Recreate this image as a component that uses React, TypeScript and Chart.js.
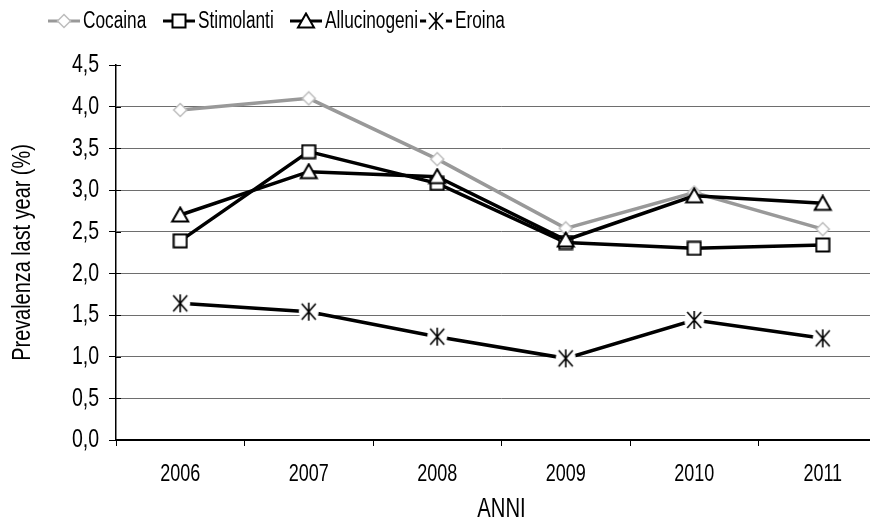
import React, { useEffect, useRef } from "react";
import { Chart, registerables } from "chart.js";

Chart.register(...registerables);

const years = ["2006", "2007", "2008", "2009", "2010", "2011"];
const cocaina = [3.96, 4.1, 3.37, 2.54, 2.97, 2.53];
const stimolanti = [2.39, 3.46, 3.08, 2.37, 2.3, 2.34];
const allucinogeni = [2.7, 3.22, 3.16, 2.4, 2.93, 2.84];
const eroina = [1.64, 1.54, 1.24, 0.98, 1.44, 1.22];
const seriesNames = ["Cocaina", "Stimolanti", "Allucinogeni", "Eroina"];
const yMin = 0;
const yMax = 4.5;
const yStep = 0.5;
const xTitle = "ANNI";
const yTitle = "Prevalenza last year (%)";

const FONT = "'Liberation Sans', Arial, sans-serif";
const SQUEEZE = 0.75;

function makeCanvas(w: number, h: number, draw: (c: CanvasRenderingContext2D) => void) {
  const c = document.createElement("canvas");
  c.width = w;
  c.height = h;
  const ctx = c.getContext("2d")!;
  draw(ctx);
  return c;
}

function diamond() {
  return makeCanvas(16, 16, (c) => {
    c.beginPath();
    c.moveTo(8, 1.5);
    c.lineTo(14.5, 8);
    c.lineTo(8, 14.5);
    c.lineTo(1.5, 8);
    c.closePath();
    c.fillStyle = "#ffffff";
    c.fill();
    c.lineWidth = 1.5;
    c.strokeStyle = "#bdbdbd";
    c.stroke();
  });
}

function square() {
  return makeCanvas(16, 16, (c) => {
    c.fillStyle = "#ffffff";
    c.fillRect(1.5, 1.5, 13, 13);
    c.lineWidth = 2;
    c.strokeStyle = "#000000";
    c.strokeRect(1.5, 1.5, 13, 13);
  });
}

function triangle() {
  return makeCanvas(20, 18, (c) => {
    c.beginPath();
    c.moveTo(10, 1.5);
    c.lineTo(18, 15.5);
    c.lineTo(2, 15.5);
    c.closePath();
    c.fillStyle = "#ffffff";
    c.fill();
    c.lineWidth = 2;
    c.strokeStyle = "#000000";
    c.stroke();
  });
}

function asterisk() {
  return makeCanvas(24, 24, (c) => {
    c.beginPath();
    c.ellipse(12, 12, 10, 11, 0, 0, Math.PI * 2);
    c.fillStyle = "#ffffff";
    c.fill();
    c.strokeStyle = "#000000";
    c.lineWidth = 1.6;
    c.beginPath();
    c.moveTo(12, 3);
    c.lineTo(12, 21);
    c.moveTo(5, 4);
    c.lineTo(19, 20);
    c.moveTo(19, 4);
    c.lineTo(5, 20);
    c.stroke();
  });
}

function squeezeText(ctx: CanvasRenderingContext2D) {
  const anyCtx = ctx as any;
  if (anyCtx.__squeezed) return;
  anyCtx.__squeezed = true;
  const origFill = ctx.fillText.bind(ctx);
  const origMeasure = ctx.measureText.bind(ctx);
  anyCtx.fillText = (text: string, x: number, y: number, maxWidth?: number) => {
    ctx.save();
    ctx.translate(x, y);
    ctx.scale(SQUEEZE, 1);
    if (maxWidth !== undefined) origFill(text, 0, 0, maxWidth / SQUEEZE);
    else origFill(text, 0, 0);
    ctx.restore();
  };
  anyCtx.measureText = (text: string) => {
    const m = origMeasure(text);
    return {
      width: m.width * SQUEEZE,
      actualBoundingBoxAscent: m.actualBoundingBoxAscent,
      actualBoundingBoxDescent: m.actualBoundingBoxDescent,
      actualBoundingBoxLeft: m.actualBoundingBoxLeft * SQUEEZE,
      actualBoundingBoxRight: m.actualBoundingBoxRight * SQUEEZE,
      fontBoundingBoxAscent: m.fontBoundingBoxAscent,
      fontBoundingBoxDescent: m.fontBoundingBoxDescent,
    };
  };
}

export default function App() {
  const ref = useRef<HTMLCanvasElement | null>(null);

  useEffect(() => {
    const canvas = ref.current;
    if (!canvas) return;
    squeezeText(canvas.getContext("2d")!);
    const markers = [diamond(), square(), triangle(), asterisk()];
    const lineColors = ["#999999", "#000000", "#000000", "#000000"];
    const values = [cocaina, stimolanti, allucinogeni, eroina];

    const legendPlugin = {
      id: "customLegend",
      afterDraw(chart: any) {
        const ctx: CanvasRenderingContext2D = chart.ctx;
        const starts = [48, 163, 290, 420];
        const y = 21;
        ctx.save();
        ctx.font = `23px ${FONT}`;
        ctx.textBaseline = "middle";
        ctx.textAlign = "left";
        seriesNames.forEach((name, i) => {
          const x0 = starts[i];
          ctx.strokeStyle = lineColors[i];
          ctx.lineWidth = 3;
          ctx.beginPath();
          ctx.moveTo(x0, y);
          ctx.lineTo(x0 + 32, y);
          ctx.stroke();
          const m = markers[i];
          ctx.drawImage(m, Math.round(x0 + 16 - m.width / 2), Math.round(y - m.height / 2));
          ctx.fillStyle = "#000000";
          ctx.fillText(name, x0 + 35, y + 1);
        });
        ctx.restore();
      },
    };

    const crossTickPlugin = {
      id: "crossTicks",
      afterDatasetsDraw(chart: any) {
        const ctx: CanvasRenderingContext2D = chart.ctx;
        const ys = chart.scales.y;
        const left = chart.chartArea.left;
        ctx.save();
        ctx.strokeStyle = "#000000";
        ctx.lineWidth = 1;
        ys.ticks.forEach((t: any) => {
          const py = Math.round(ys.getPixelForValue(t.value)) + 0.5;
          ctx.beginPath();
          ctx.moveTo(left, py);
          ctx.lineTo(left + 5, py);
          ctx.stroke();
        });
        ctx.restore();
      },
    };

    const chart = new Chart(canvas, {
      type: "line",
      data: {
        labels: years,
        datasets: values.map((v, i) => ({
          label: seriesNames[i],
          data: v,
          borderColor: lineColors[i],
          backgroundColor: lineColors[i],
          borderWidth: 3.5,
          pointStyle: markers[i] as any,
          pointRadius: 8,
          pointHoverRadius: 8,
          tension: 0,
          fill: false,
          order: 4 - i,
        })),
      },
      options: {
        responsive: false,
        animation: false,
        devicePixelRatio: 1,
        layout: { padding: { top: 65, right: 13, left: 0, bottom: 0 } },
        plugins: {
          legend: { display: false },
          tooltip: { enabled: false },
          title: { display: false },
        },
        scales: {
          x: {
            type: "category",
            offset: true,
            grid: {
              display: true,
              drawOnChartArea: false,
              drawTicks: true,
              tickLength: 6,
              offset: true,
              color: "#000000",
              tickColor: "#000000",
            },
            border: { display: true, color: "#000000", width: 2 },
            ticks: {
              color: "#000000",
              font: { family: FONT, size: 24 },
              padding: 14,
              maxRotation: 0,
              autoSkip: false,
            },
            title: {
              display: true,
              text: xTitle,
              color: "#000000",
              font: { family: FONT, size: 27, lineHeight: 1 },
              padding: { top: 0, bottom: 0 },
            },
            afterFit(scale: any) {
              scale.height = 83;
            },
          },
          y: {
            min: yMin,
            max: yMax,
            ticks: {
              stepSize: yStep,
              color: "#000000",
              font: { family: FONT, size: 26 },
              padding: 10,
              callback: (v: any) => Number(v).toFixed(1).replace(".", ","),
            },
            grid: {
              color: (c: any) =>
                c.tick && c.tick.value >= yMax ? "rgba(0,0,0,0)" : "#6e6e6e",
              lineWidth: 1,
              drawTicks: true,
              tickLength: 7,
              tickColor: "#000000",
            },
            border: { display: true, color: "#000000", width: 1.5 },
            title: {
              display: true,
              text: yTitle,
              color: "#000000",
              font: { family: FONT, size: 26.5, lineHeight: 1 },
              padding: { top: 9, bottom: 0 },
            },
            afterFit(scale: any) {
              scale.width = 116;
            },
          },
        },
      },
      plugins: [legendPlugin, crossTickPlugin],
    });
    return () => chart.destroy();
  }, []);

  return (
    <div
      style={{
        position: "absolute",
        left: 0,
        top: 0,
        width: 870,
        height: 523,
        overflow: "hidden",
        background: "#ffffff",
      }}
    >
      <canvas ref={ref} width={900} height={523} style={{ display: "block" }} />
    </div>
  );
}
